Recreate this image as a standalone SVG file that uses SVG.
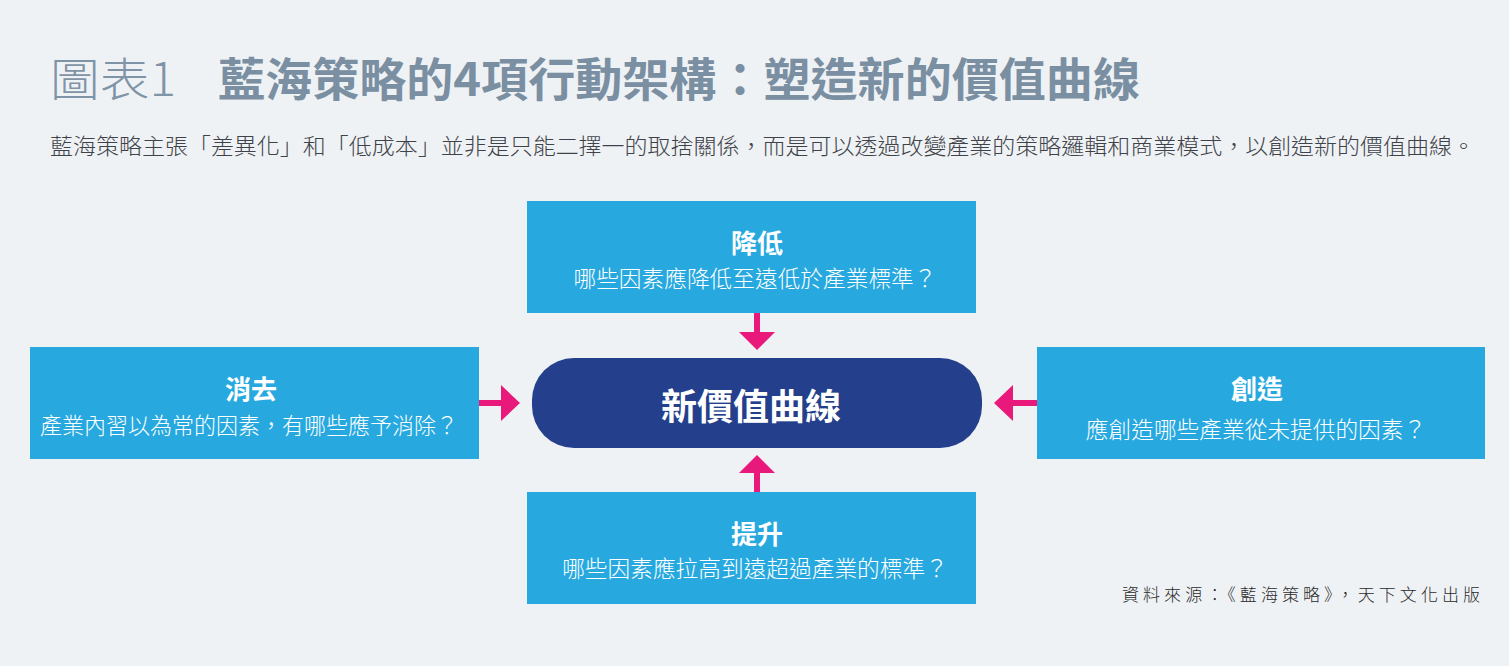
<svg xmlns="http://www.w3.org/2000/svg" width="1509" height="666" viewBox="0 0 1509 666">
<style>
.box{fill:#27a9e0}
.hd{font-family:"Noto Sans CJK TC","Noto Sans",sans-serif;font-weight:700;font-size:26px;fill:#ffffff;text-anchor:middle;dominant-baseline:central}
.sub{font-family:"Noto Sans CJK TC","Noto Sans",sans-serif;font-weight:300;font-size:22.7px;fill:#ffffff;text-anchor:middle;dominant-baseline:central}
.arr{fill:#e8197b}
</style>
<rect width="1509" height="666" fill="#eff2f5"/>
<g id="title">
<text x="50" y="96" font-family="'Noto Sans CJK TC',sans-serif" font-weight="300" font-size="46" fill="#7f94a6" textLength="126" lengthAdjust="spacingAndGlyphs">圖表1</text>
<text x="218" y="96" font-family="'Noto Sans CJK TC',sans-serif" font-weight="700" font-size="46" fill="#7a8fa2" textLength="922" lengthAdjust="spacingAndGlyphs">藍海策略的4項行動架構：塑造新的價值曲線</text>
</g>
<g id="subtitle">
<text x="50" y="154" font-family="'Noto Sans CJK TC',sans-serif" font-weight="300" font-size="22" fill="#3f4349" textLength="1425" lengthAdjust="spacingAndGlyphs">藍海策略主張「差異化」和「低成本」並非是只能二擇一的取捨關係，而是可以透過改變產業的策略邏輯和商業模式，以創造新的價值曲線。</text>
</g>
<g id="connectors">
<path class="arr" d="M754 313 H760 V332 H775 L757 350 L739 332 H754 Z"/>
<path class="arr" d="M754 492 H760 V473 H775 L757 455 L739 473 H754 Z"/>
<path class="arr" d="M479 400 V406 H501 V421 L520 403 L501 385 V400 Z"/>
<path class="arr" d="M1037 400 V406 H1013 V421 L994 403 L1013 385 V400 Z"/>
</g>
<g id="node-reduce">
<rect class="box" x="527" y="201" width="449" height="112"/>
<text class="hd" x="757" y="241">降低</text>
<text class="sub" x="755" y="277">哪些因素應降低至遠低於產業標準？</text>
</g>
<g id="node-eliminate">
<rect class="box" x="30" y="347" width="449" height="112"/>
<text class="hd" x="251" y="387">消去</text>
<text class="sub" x="249" y="424" textLength="418" lengthAdjust="spacingAndGlyphs">產業內習以為常的因素，有哪些應予消除？</text>
</g>
<g id="node-create">
<rect class="box" x="1037" y="347" width="448" height="112"/>
<text class="hd" x="1257" y="387">創造</text>
<text class="sub" x="1256" y="428">應創造哪些產業從未提供的因素？</text>
</g>
<g id="node-raise">
<rect class="box" x="527" y="492" width="449" height="112"/>
<text class="hd" x="757" y="532">提升</text>
<text class="sub" x="755" y="567">哪些因素應拉高到遠超過產業的標準？</text>
</g>
<g id="node-center">
<rect x="532" y="358" width="450" height="90" rx="42" ry="42" fill="#243f8c"/>
<text x="751" y="404" font-family="'Noto Sans CJK TC',sans-serif" font-weight="700" font-size="36" fill="#ffffff" text-anchor="middle" dominant-baseline="central">新價值曲線</text>
</g>
<g id="source">
<text x="1122" y="601" font-family="'Noto Sans CJK TC',serif" font-weight="300" font-size="17" fill="#2a2a2a" textLength="358" lengthAdjust="spacing">資料來源：《藍海策略》，天下文化出版</text>
</g>
</svg>
